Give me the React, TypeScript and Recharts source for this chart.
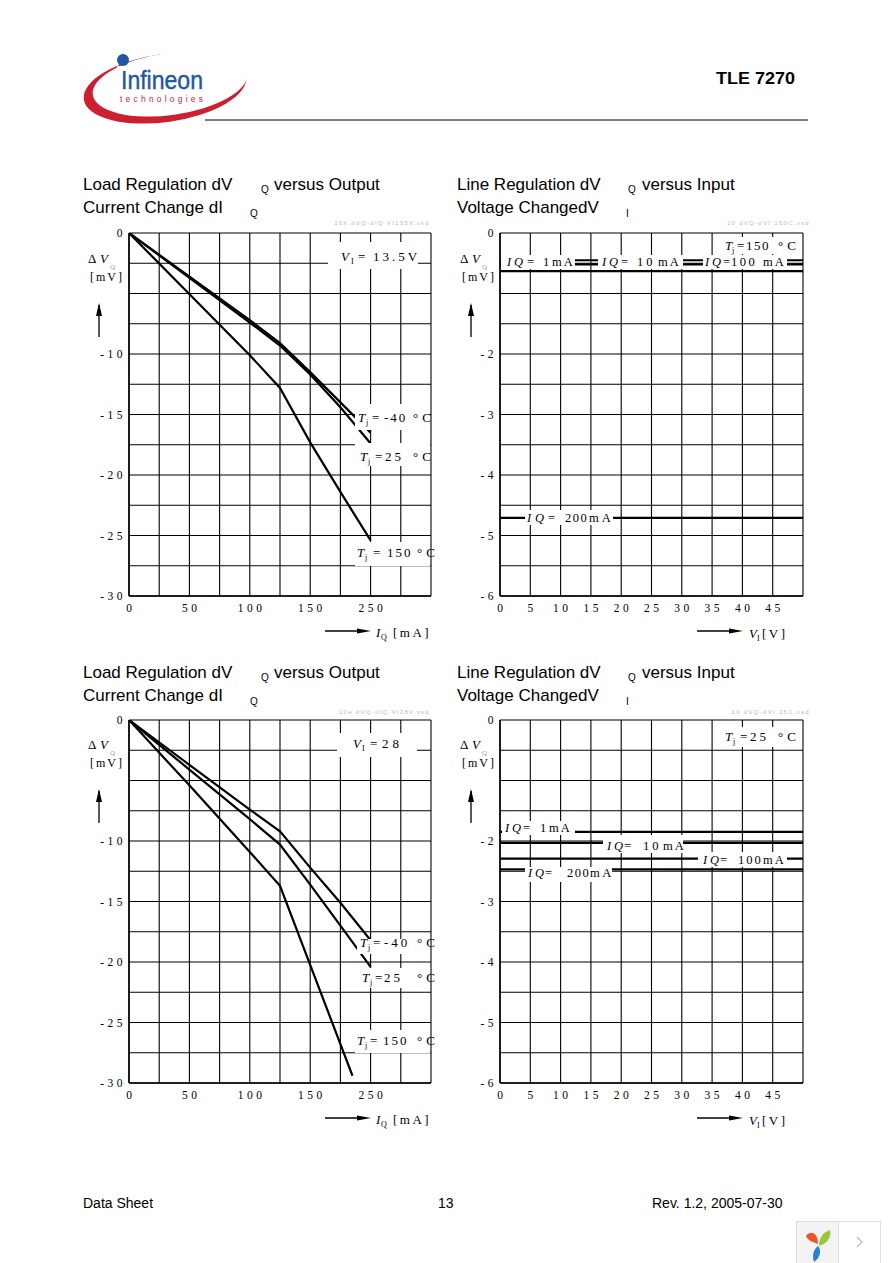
import React from 'react';
import { LineChart, Line, XAxis, YAxis, CartesianGrid } from 'recharts';

// ---------------- data ----------------
const loadXTicks = [0, 25, 50, 75, 100, 125, 150, 175, 200, 225, 250];
const loadXTickLabels = ['0', '', '50', '', '100', '', '150', '', '250', '', ''];
const loadYTicks = [0, -2.5, -5, -7.5, -10, -12.5, -15, -17.5, -20, -22.5, -25, -27.5, -30];
const loadYTickLabels = ['0', '', '', '', '-10', '', '-15', '', '-20', '', '-25', '', '-30'];

const lineXTicks = [0, 5, 10, 15, 20, 25, 30, 35, 40, 45, 50];
const lineXTickLabels = ['0', '5', '10', '15', '20', '25', '30', '35', '40', '45', ''];
const lineYTicks = [0, -0.5, -1, -1.5, -2, -2.5, -3, -3.5, -4, -4.5, -5, -5.5, -6];
const lineYTickLabels = ['0', '', '', '', '-2', '', '-3', '', '-4', '', '-5', '', '-6'];

// Load regulation, VI = 13.5 V  (IQ in mA, dVQ in mV)
const load135Current = [0, 100, 125, 150, 175, 200];
const load135Tm40 = [0, -7.2, -9.1, -11.5, -14.0, -16.5];
const load135T25 = [0, -7.4, -9.3, -11.7, -14.4, -17.4];
const load135T150 = [0, -10.1, -12.8, -17.3, -21.4, -25.4];

// Load regulation, VI = 28 V
const load28Current = [0, 50, 100, 125, 150, 175, 200];
const load28Tm40 = [0, -3.7, -7.4, -9.2, -12.2, -15.1, -18.2];
const load28T25 = [0, -4.1, -8.2, -10.3, -13.6, -17.0, -20.4];
const load28T150Current = [0, 50, 100, 125, 185];
const load28T150 = [0, -5.4, -10.9, -13.7, -29.4];

// Line regulation (VI in V, dVQ in mV)
const lineVoltage = [0, 50];
const line150IQ1 = [-0.45, -0.45];
const line150IQ10 = [-0.52, -0.52];
const line150IQ100 = [-0.63, -0.63];
const line150IQ200 = [-4.71, -4.71];
const line25IQ1 = [-1.85, -1.85];
const line25IQ10 = [-2.03, -2.03];
const line25IQ100 = [-2.29, -2.29];
const line25IQ200 = [-2.47, -2.47];

// ---------------- styling ----------------
const SERIF = '"Liberation Serif","Times New Roman",serif';
const SANS = '"Liberation Sans",Arial,Helvetica,sans-serif';
const tickStyle: React.CSSProperties = { fontFamily: SERIF, fontSize: 11.5, letterSpacing: 3.5, fill: '#000' };

type Series = { name: string; xs: number[]; ys: number[] };

function makeYTick(ticks: number[], labels: string[]) {
  return (props: any) => {
    const { x, y, payload } = props;
    const i = ticks.indexOf(payload.value);
    const t = i >= 0 ? labels[i] : '';
    if (!t) return <g />;
    return (
      <text x={x - 3} y={y + 4} textAnchor="end" style={tickStyle}>
        {t}
      </text>
    );
  };
}

function makeXTick(ticks: number[], labels: string[]) {
  return (props: any) => {
    const { x, y, payload } = props;
    const i = ticks.indexOf(payload.value);
    const t = i >= 0 ? labels[i] : '';
    if (!t) return <g />;
    return (
      <text x={x + 1.75} y={y + 16} textAnchor="middle" style={tickStyle}>
        {t}
      </text>
    );
  };
}

function Panel(props: {
  left: number; top: number; w: number; h: number;
  xTicks: number[]; xLabels: string[]; yTicks: number[]; yLabels: string[];
  series: Series[];
}) {
  const { left, top, w, h, xTicks, xLabels, yTicks, yLabels, series } = props;
  const YW = 60, MT = 10, MR = 12, XH = 30, MB = 6;
  return (
    <div style={{ position: 'absolute', left: left - YW, top: top - MT }}>
      <LineChart width={YW + w + MR} height={MT + h + XH + MB} margin={{ top: MT, right: MR, bottom: MB, left: 0 }}>
        <CartesianGrid stroke="#000" strokeWidth={1.1} />
        <XAxis
          dataKey="x" type="number" domain={[xTicks[0], xTicks[xTicks.length - 1]]}
          ticks={xTicks} interval={0} height={XH} tickSize={0} tickMargin={0} tickLine={false}
          axisLine={{ stroke: '#000', strokeWidth: 1.5 }} tick={makeXTick(xTicks, xLabels)} allowDataOverflow
        />
        <YAxis
          type="number" domain={[yTicks[yTicks.length - 1], yTicks[0]]}
          ticks={yTicks} interval={0} width={YW} tickSize={0} tickMargin={0} tickLine={false}
          axisLine={{ stroke: '#000', strokeWidth: 1.5 }} tick={makeYTick(yTicks, yLabels)} allowDataOverflow
        />
        {series.map((s) => (
          <Line
            key={s.name} name={s.name} data={s.xs.map((x, i) => ({ x, y: s.ys[i] }))}
            dataKey="y" type="linear" stroke="#000" strokeWidth={2.2} dot={false} activeDot={false}
            isAnimationActive={false}
          />
        ))}
      </LineChart>
    </div>
  );
}

type Seg = [string, number, { it?: boolean; sub?: boolean; ls?: number; fs?: number; fill?: string }?];
function Rich({ y, segs, fs = 13 }: { y: number; segs: Seg[]; fs?: number }) {
  return (
    <g>
      {segs.map(([t, x, o = {}], i) => (
        <text
          key={i} x={x} y={o.sub ? y + 3 : y} fontFamily={SERIF}
          fontSize={o.sub ? 8 : o.fs ?? fs} fontStyle={o.it ? 'italic' : 'normal'}
          fill={o.fill ?? '#000'} style={{ letterSpacing: o.ls ?? 2 }}
        >
          {t}
        </text>
      ))}
    </g>
  );
}

function Box({ x, y, w, h }: { x: number; y: number; w: number; h: number }) {
  return <rect x={x} y={y} width={w} height={h} fill="#fff" />;
}

function YTitle({ x, top }: { x: number; top: number }) {
  return (
    <g>
      <text x={x} y={top + 30} fontFamily={SERIF} fontSize={13}>Δ</text>
      <text x={x + 12} y={top + 30} fontFamily={SERIF} fontSize={13} fontStyle="italic">V</text>
      <text x={x + 22} y={top + 36} fontFamily={SERIF} fontSize={7} fill="#999">Q</text>
      <text x={x + 2} y={top + 48} fontFamily={SERIF} fontSize={12} style={{ letterSpacing: 2 }}>[mV]</text>
      <line x1={x + 11} x2={x + 11} y1={top + 72} y2={top + 104} stroke="#000" strokeWidth={1.3} />
      <polygon points={`${x + 11},${top + 70} ${x + 8},${top + 83} ${x + 14},${top + 83}`} fill="#000" />
    </g>
  );
}

function XTitle({ x, y, kind }: { x: number; y: number; kind: 'I' | 'V' }) {
  return (
    <g>
      <line x1={x} x2={x + 34} y1={y} y2={y} stroke="#000" strokeWidth={1.3} />
      <polygon points={`${x + 46},${y} ${x + 32},${y - 2.5} ${x + 32},${y + 2.5}`} fill="#000" />
      {kind === 'I' ? (
        <Rich y={y + 6} segs={[['I', x + 51, { it: true }], ['Q', x + 56, { sub: true }], ['[mA]', x + 68, { ls: 2.5 }]]} />
      ) : (
        <Rich y={y + 7} segs={[['V', x + 52, { it: true }], ['I', x + 60, { sub: true }], ['[V]', x + 65, { ls: 2.5 }]]} />
      )}
    </g>
  );
}

function Title({ x, y, a, sa, b, l2, s2 }: { x: number; y: number; a: string; sa: number; b?: [string, number]; l2: string; s2: [string, number] }) {
  return (
    <g fontFamily={SANS} fill="#000">
      <text x={x} y={y} fontSize={17}>{a}</text>
      <text x={sa} y={y + 3} fontSize={10}>Q</text>
      {b && <text x={b[1]} y={y} fontSize={17}>{b[0]}</text>}
      <text x={x} y={y + 23} fontSize={17}>{l2}</text>
      <text x={s2[1]} y={y + 27} fontSize={10}>{s2[0]}</text>
    </g>
  );
}

const TOP1 = 233;
const TOP2 = 720;
const PH = 363;

export default function App() {
  const s = (name: string, xs: number[], ys: number[]): Series => ({ name, xs, ys });
  return (
    <div style={{ position: 'absolute', left: 0, top: 0, width: 892, height: 1263, background: '#fff', overflow: 'hidden' }}>
      <Panel left={129} top={TOP1} w={302} h={PH} xTicks={loadXTicks} xLabels={loadXTickLabels} yTicks={loadYTicks} yLabels={loadYTickLabels}
        series={[s('Tj=-40', load135Current, load135Tm40), s('Tj=25', load135Current, load135T25), s('Tj=150', load135Current, load135T150)]} />
      <Panel left={500} top={TOP1} w={303} h={PH} xTicks={lineXTicks} xLabels={lineXTickLabels} yTicks={lineYTicks} yLabels={lineYTickLabels}
        series={[s('IQ=1mA', lineVoltage, line150IQ1), s('IQ=10mA', lineVoltage, line150IQ10), s('IQ=100mA', lineVoltage, line150IQ100), s('IQ=200mA', lineVoltage, line150IQ200)]} />
      <Panel left={129} top={TOP2} w={302} h={PH} xTicks={loadXTicks} xLabels={loadXTickLabels} yTicks={loadYTicks} yLabels={loadYTickLabels}
        series={[s('Tj=-40', load28Current, load28Tm40), s('Tj=25', load28Current, load28T25), s('Tj=150', load28T150Current, load28T150)]} />
      <Panel left={500} top={TOP2} w={303} h={PH} xTicks={lineXTicks} xLabels={lineXTickLabels} yTicks={lineYTicks} yLabels={lineYTickLabels}
        series={[s('IQ=1mA', lineVoltage, line25IQ1), s('IQ=10mA', lineVoltage, line25IQ10), s('IQ=100mA', lineVoltage, line25IQ100), s('IQ=200mA', lineVoltage, line25IQ200)]} />

      <svg width={892} height={1263} style={{ position: 'absolute', left: 0, top: 0, pointerEvents: 'none' }}>
        {/* header logo */}
        <ellipse cx={165} cy={88} rx={82} ry={34} transform="rotate(-8 165 88)" fill="#cc1f2f" />
        <ellipse cx={170} cy={84} rx={78} ry={31} transform="rotate(-8 170 84)" fill="#fff" />
        <circle cx={123} cy={60} r={6} fill="#1f57a4" />
        <text x={121} y={89} fontFamily={SANS} fontSize={25} fill="#1f57a4" stroke="#1f57a4" strokeWidth={0.4} textLength={82} lengthAdjust="spacingAndGlyphs">Infineon</text>
        <text x={120} y={102} fontFamily={SANS} fontSize={8.5} fill="#cc1f2f" textLength={83} lengthAdjust="spacing">technologies</text>
        <rect x={117} y={66} width={9} height={5} fill="#fff" />
        <line x1={205} x2={808} y1={120} y2={120} stroke="#000" strokeWidth={1} />
        <text x={716} y={84} fontFamily={SANS} fontSize={17} fontWeight="bold" textLength={79} lengthAdjust="spacingAndGlyphs">TLE 7270</text>

        {/* titles */}
        <Title x={83} y={190} a="Load Regulation dV" sa={261} b={['versus Output', 274]} l2="Current Change dI" s2={['Q', 250]} />
        <Title x={457} y={190} a="Line Regulation dV" sa={628} b={['versus Input', 642]} l2="Voltage ChangedV" s2={['I', 626]} />
        <Title x={83} y={678} a="Load Regulation dV" sa={261} b={['versus Output', 274]} l2="Current Change dI" s2={['Q', 250]} />
        <Title x={457} y={678} a="Line Regulation dV" sa={628} b={['versus Input', 642]} l2="Voltage ChangedV" s2={['I', 626]} />

        {/* file-name watermarks */}
        <g fontFamily={SANS} fontSize={6} fill="#bbb" style={{ letterSpacing: 1.3 }} textAnchor="end">
          <text x={430} y={225}>10h dVQ-dIQ VI135V.vsd</text>
          <text x={810} y={225}>10 dVQ-dVI 150C.vsd</text>
          <text x={430} y={714}>10e dVQ-dIQ VI28V.vsd</text>
          <text x={810} y={714}>10 dVQ-dVI 25C.vsd</text>
        </g>

        {/* axis titles */}
        <YTitle x={88} top={TOP1} />
        <YTitle x={460} top={TOP1} />
        <YTitle x={88} top={TOP2 - 1} />
        <YTitle x={460} top={TOP2 - 1} />
        <XTitle x={325} y={631} kind="I" />
        <XTitle x={697} y={631} kind="V" />
        <XTitle x={325} y={1118} kind="I" />
        <XTitle x={697} y={1118} kind="V" />

        {/* chart 1 annotations */}
        <Box x={328} y={242} w={90} h={27} />
        <Rich y={261} segs={[['V', 341, { it: true }], ['I', 351, { sub: true }], ['=', 358], ['13.5V', 373, { ls: 3 }]]} />
        <Box x={355} y={404} w={75} h={26} />
        <Rich y={422} segs={[['T', 358, { it: true }], ['j', 366, { sub: true }], ['=', 372], ['-40', 384, { ls: 2 }], ['°C', 413, { ls: 4 }]]} />
        <Box x={355} y={443} w={75} h={23} />
        <Rich y={461} segs={[['T', 360, { it: true }], ['j', 368, { sub: true }], ['=', 375], ['25', 385, { ls: 3 }], ['°C', 413, { ls: 4 }]]} />
        <Box x={355} y={542} w={75} h={24} />
        <Rich y={557} segs={[['T', 357, { it: true }], ['j', 365, { sub: true }], ['=', 373], ['150', 387, { ls: 2 }], ['°C', 417, { ls: 4 }]]} />

        {/* chart 2 annotations */}
        <Box x={720} y={237} w={80} h={17} />
        <Rich y={250} segs={[['T', 725, { it: true }], ['j', 732, { sub: true, fs: 7 }], ['=', 737], ['150', 746, { ls: 1.5 }], ['°C', 778, { ls: 4 }]]} />
        <Box x={501} y={255} w={74} h={14} />
        <Rich y={266} fs={12.5} segs={[['I', 507, { it: true }], ['Q', 514, { it: true }], ['=', 527], ['1', 543], ['mA', 552, { ls: 2 }]]} />
        <Box x={598} y={255} w={85} h={14} />
        <Rich y={266} fs={12.5} segs={[['I', 602, { it: true }], ['Q', 609, { it: true }], ['=', 621], ['10', 637, { ls: 3 }], ['mA', 658, { ls: 2 }]]} />
        <Box x={703} y={255} w={84} h={14} />
        <Rich y={266} fs={12.5} segs={[['I', 705, { it: true }], ['Q', 712, { it: true }], ['=', 723], ['100', 731, { ls: 2.5 }], ['mA', 763, { ls: 2 }]]} />
        <Box x={525} y={510} w={88} h={15} />
        <Rich y={522} fs={12.5} segs={[['I', 527, { it: true }], ['Q', 535, { it: true }], ['=', 548], ['200', 565, { ls: 1.5 }], ['mA', 589, { ls: 3 }]]} />

        {/* chart 3 annotations */}
        <Box x={337} y={733} w={80} h={24} />
        <Rich y={748} segs={[['V', 353, { it: true }], ['I', 362, { sub: true }], ['=', 370], ['28', 382, { ls: 4 }]]} />
        <Box x={357} y={939} w={73} h={15} />
        <Rich y={947} segs={[['T', 360, { it: true }], ['j', 368, { sub: true }], ['=', 373], ['-40', 384, { ls: 3 }], ['°C', 417, { ls: 4 }]]} />
        <Box x={357} y={968} w={73} h={20} />
        <Rich y={982} segs={[['T', 362, { it: true }], ['j', 370, { sub: true }], ['=', 375], ['25', 384, { ls: 3 }], ['°C', 417, { ls: 4 }]]} />
        <Box x={355} y={1030} w={75} h={23} />
        <Rich y={1045} segs={[['T', 357, { it: true }], ['j', 365, { sub: true }], ['=', 370], ['150', 383, { ls: 2 }], ['°C', 417, { ls: 4 }]]} />

        {/* chart 4 annotations */}
        <Box x={720} y={727} w={80} h={20} />
        <Rich y={741} segs={[['T', 725, { it: true }], ['j', 733, { sub: true }], ['=', 740], ['25', 750, { ls: 3 }], ['°C', 778, { ls: 4 }]]} />
        <Box x={502} y={821} w={73} h={14} />
        <Rich y={832} fs={12.5} segs={[['I', 505, { it: true }], ['Q', 512, { it: true }], ['=', 523], ['1', 540], ['mA', 549, { ls: 2 }]]} />
        <Box x={603} y={835} w={80} h={18} />
        <Rich y={850} fs={12.5} segs={[['I', 607, { it: true }], ['Q', 614, { it: true }], ['=', 624], ['10', 643, { ls: 3 }], ['mA', 663, { ls: 2 }]]} />
        <Box x={698} y={852} w={89} h={15} />
        <Rich y={864} fs={12.5} segs={[['I', 703, { it: true }], ['Q', 710, { it: true }], ['=', 720], ['100', 738, { ls: 2 }], ['mA', 763, { ls: 2 }]]} />
        <Box x={525} y={867} w={87} h={15} />
        <Rich y={877} fs={12.5} segs={[['I', 528, { it: true }], ['Q', 535, { it: true }], ['=', 545], ['200', 567, { ls: 1.5 }], ['mA', 590, { ls: 2.5 }]]} />

        {/* footer */}
        <g fontFamily={SANS} fontSize={14} fill="#000">
          <text x={83} y={1208}>Data Sheet</text>
          <text x={438} y={1208}>13</text>
          <text x={652} y={1208}>Rev. 1.2, 2005-07-30</text>
        </g>
        <rect x={796.5} y={1221.5} width={42} height={42} fill="#f3f3f3" stroke="#ddd" />
        <rect x={838.5} y={1221.5} width={42} height={42} fill="#fff" stroke="#ddd" />
        <path d="M806,1236 C810,1230 818,1232 818,1244 C813,1242 808,1241 806,1236 Z" fill="#e8562a" />
        <path d="M830,1230 C832,1238 826,1244 819,1246 C819,1238 823,1232 830,1230 Z" fill="#9cc43c" />
        <path d="M818,1246 C822,1250 820,1258 814,1262 C812,1256 813,1250 818,1246 Z" fill="#2d7dd2" />
        <polyline points="857,1237 862,1242 857,1247" fill="none" stroke="#bbb" strokeWidth={1.2} />
      </svg>
    </div>
  );
}
